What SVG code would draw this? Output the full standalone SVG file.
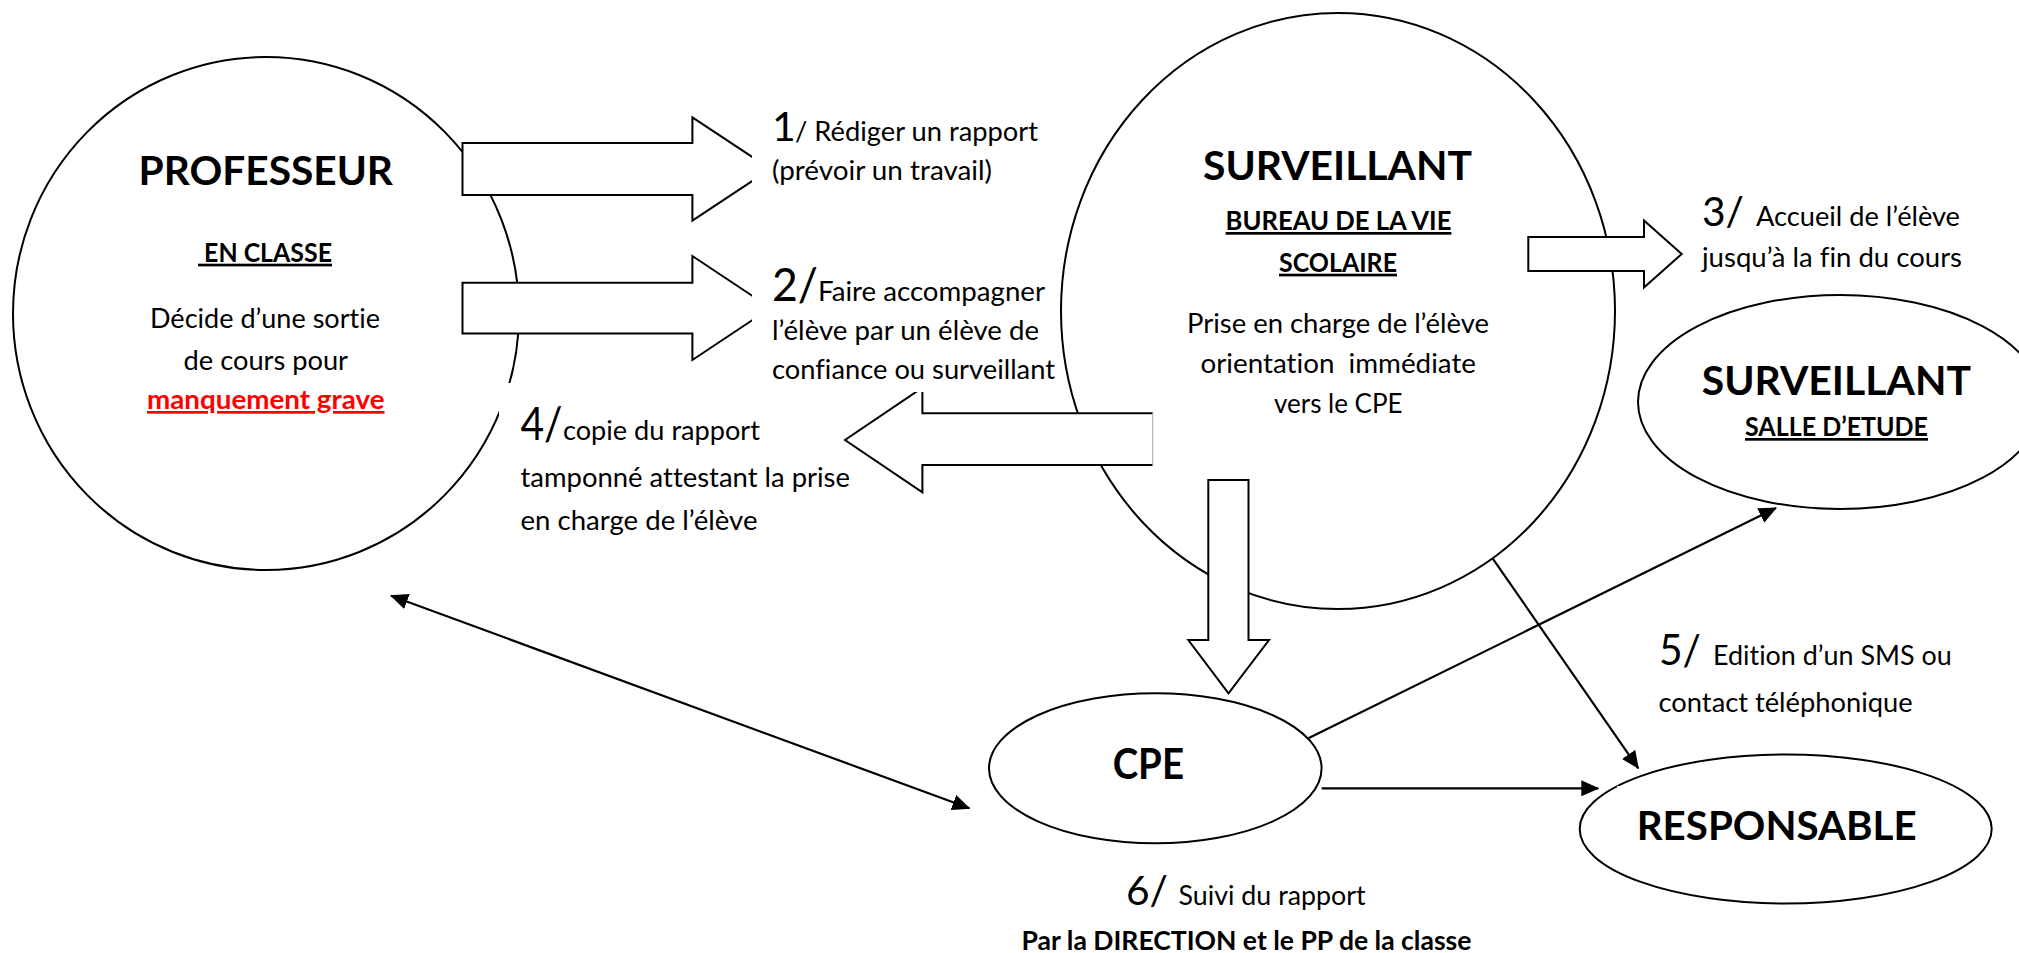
<svg xmlns="http://www.w3.org/2000/svg" width="2019" height="953" viewBox="0 0 2019 953">
<style>
  .t{font-family:Lato,'Open Sans','Liberation Sans',sans-serif;fill:#000;font-variant-ligatures:none;font-feature-settings:"liga" 0,"clig" 0}
  .r{font-size:27px}
  .b{font-weight:700}
  .h{font-size:40px;font-weight:700}
  .n{font-size:42px}
  .u{text-decoration:underline}
  .red{fill:#FF0000}
  .shape{fill:#fff;stroke:#000;stroke-width:2}
  .ln{stroke:#000;stroke-width:2.2;fill:none}
  .mask{fill:#fff;stroke:none}
</style>
<defs>
  <marker id="ah" viewBox="0 0 18 16" markerWidth="18" markerHeight="16" refX="17" refY="8" orient="auto-start-reverse" markerUnits="userSpaceOnUse">
    <path d="M0,0 L18,8 L0,16 z" fill="#000"/>
  </marker>
</defs>
<rect x="0" y="0" width="2019" height="953" fill="#fff"/>

<g id="node-professeur">
  <ellipse class="shape" cx="266" cy="313.5" rx="253" ry="256.5"/>
  <text class="t h" x="138.5" y="185" textLength="254.5" lengthAdjust="spacingAndGlyphs">PROFESSEUR</text>
  <text class="t r b u" x="198" y="261.7" xml:space="preserve" textLength="134" lengthAdjust="spacingAndGlyphs"> EN CLASSE</text>
  <text class="t r" x="150" y="328" textLength="230" lengthAdjust="spacingAndGlyphs">Décide d’une sortie</text>
  <text class="t r" x="183.6" y="370" textLength="164.4" lengthAdjust="spacingAndGlyphs">de cours pour</text>
  <text class="t r b u red" x="147" y="409" textLength="237.5" lengthAdjust="spacingAndGlyphs">manquement grave</text>
</g>

<g id="node-surveillant-bureau">
  <ellipse class="shape" cx="1338" cy="311" rx="277" ry="298"/>
  <text class="t h" x="1203" y="180" textLength="269" lengthAdjust="spacingAndGlyphs">SURVEILLANT</text>
  <text class="t r b u" x="1225.6" y="230" textLength="225.8" lengthAdjust="spacingAndGlyphs">BUREAU DE LA VIE</text>
  <text class="t r b u" x="1279" y="271.7" textLength="118" lengthAdjust="spacingAndGlyphs">SCOLAIRE</text>
  <text class="t r" x="1187" y="333" textLength="302" lengthAdjust="spacingAndGlyphs">Prise en charge de l’élève</text>
  <text class="t r" x="1200.5" y="373" xml:space="preserve" textLength="275.5" lengthAdjust="spacingAndGlyphs">orientation  immédiate</text>
  <text class="t r" x="1274" y="413" textLength="128.5" lengthAdjust="spacingAndGlyphs">vers le CPE</text>
</g>

<g id="node-surveillant-etude">
  <ellipse class="shape" cx="1840" cy="402" rx="202" ry="107"/>
  <text class="t h" x="1701.7" y="395" textLength="269.3" lengthAdjust="spacingAndGlyphs">SURVEILLANT</text>
  <text class="t r b u" x="1745" y="436" textLength="183" lengthAdjust="spacingAndGlyphs">SALLE D’ETUDE</text>
</g>

<g id="node-cpe">
  <ellipse class="shape" cx="1155.3" cy="768.3" rx="166.3" ry="75"/>
  <text class="t h" x="1112.7" y="779.3" textLength="71.3" lengthAdjust="spacingAndGlyphs" style="font-size:42px">CPE</text>
</g>

<g id="node-responsable">
  <ellipse class="shape" cx="1785.7" cy="829" rx="206" ry="74.5"/>
  <rect class="mask" x="1617" y="786" width="336" height="80"/>
  <text class="t h" x="1636.7" y="840" textLength="280" lengthAdjust="spacingAndGlyphs">RESPONSABLE</text>
</g>

<g id="connectors">
  <polygon class="shape" points="462.5,143 692.4,143 692.4,117.3 770.5,169 692.4,220.7 692.4,195 462.5,195"/>
  <polygon class="shape" points="462.5,282.7 692.4,282.7 692.4,256 770.5,308 692.4,360 692.4,333.5 462.5,333.5"/>
  <polygon class="shape" points="1528.3,237 1644,237 1644,220.5 1681.7,254 1644,287.5 1644,271 1528.3,271"/>
  <path d="M1152.7,413.3 H922.4 V387.7 L845,440 L922.4,492.3 V465 H1152.7 Z" fill="#fff" stroke="none"/>
  <path d="M1152.7,413.3 H922.4 V387.7 L845,440 L922.4,492.3 V465 H1152.7" fill="none" stroke="#000" stroke-width="2"/>
  <line x1="1152.7" y1="413.3" x2="1152.7" y2="465" stroke="#aaa" stroke-width="1"/>
  <polygon class="shape" points="1208.3,480 1248.5,480 1248.5,640 1269,640 1228.5,693.3 1188.3,640 1208.3,640"/>
  <line class="ln" x1="391" y1="595.7" x2="969.4" y2="808.3" marker-start="url(#ah)" marker-end="url(#ah)"/>
  <line class="ln" x1="1308.3" y1="738.3" x2="1776" y2="508" marker-end="url(#ah)"/>
  <line class="ln" x1="1492.6" y1="558.3" x2="1638.3" y2="768.3" marker-end="url(#ah)"/>
  <line class="ln" x1="1321.7" y1="788.3" x2="1598.3" y2="788.3" marker-end="url(#ah)"/>
</g>

<g id="label-1">
  <rect class="mask" x="752" y="100" width="295" height="140"/>
  <text class="t n" x="772" y="140.7" style="font-size:41px">1</text>
  <text class="t r" x="795" y="140.7" textLength="243" lengthAdjust="spacingAndGlyphs">/ Rédiger un rapport</text>
  <text class="t r" x="772" y="180" textLength="220" lengthAdjust="spacingAndGlyphs">(prévoir un travail)</text>
</g>

<g id="label-2">
  <rect class="mask" x="752" y="250" width="306" height="142"/>
  <text class="t n" x="772" y="301" textLength="46" lengthAdjust="spacingAndGlyphs" style="font-size:46px">2/</text>
  <text class="t r" x="818" y="301" textLength="227" lengthAdjust="spacingAndGlyphs">Faire accompagner</text>
  <text class="t r" x="772" y="340" textLength="267" lengthAdjust="spacingAndGlyphs">l’élève par un élève de</text>
  <text class="t r" x="772" y="379" textLength="283" lengthAdjust="spacingAndGlyphs">confiance ou surveillant</text>
</g>

<g id="label-3">
  <text class="t n" x="1702" y="226" textLength="42" lengthAdjust="spacingAndGlyphs" style="font-size:41px">3/</text>
  <text class="t r" x="1756" y="226" textLength="204" lengthAdjust="spacingAndGlyphs">Accueil de l’élève</text>
  <text class="t r" x="1702" y="267" textLength="260" lengthAdjust="spacingAndGlyphs">jusqu’à la fin du cours</text>
</g>

<g id="label-4">
  <rect class="mask" x="499" y="383" width="60" height="40"/>
  <text class="t n" x="520.5" y="440" textLength="42" lengthAdjust="spacingAndGlyphs" style="font-size:46px">4/</text>
  <text class="t r" x="563" y="440" textLength="197" lengthAdjust="spacingAndGlyphs">copie du rapport</text>
  <text class="t r" x="520.5" y="487" textLength="329.5" lengthAdjust="spacingAndGlyphs">tamponné attestant la prise</text>
  <text class="t r" x="520.5" y="530" textLength="237" lengthAdjust="spacingAndGlyphs">en charge de l’élève</text>
</g>

<g id="label-5">
  <text class="t n" x="1659" y="665" textLength="42" lengthAdjust="spacingAndGlyphs" style="font-size:42px">5/</text>
  <text class="t r" x="1713" y="665" textLength="238.7" lengthAdjust="spacingAndGlyphs">Edition d’un SMS ou</text>
  <text class="t r" x="1658.6" y="712" textLength="254" lengthAdjust="spacingAndGlyphs">contact téléphonique</text>
</g>

<g id="label-6">
  <text class="t n" x="1126" y="905" textLength="42" lengthAdjust="spacingAndGlyphs" style="font-size:40px">6/</text>
  <text class="t r" x="1178.6" y="905" textLength="187" lengthAdjust="spacingAndGlyphs">Suivi du rapport</text>
  <text class="t r b" x="1021.6" y="950" textLength="449.8" lengthAdjust="spacingAndGlyphs">Par la DIRECTION et le PP de la classe</text>
</g>
</svg>
